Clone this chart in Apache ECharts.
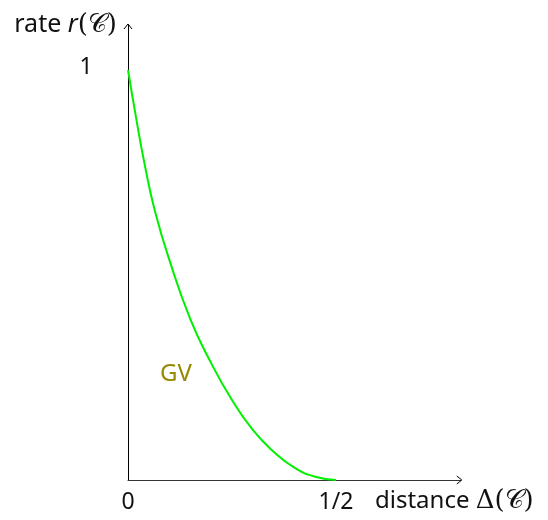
<!DOCTYPE html>
<html>
<head>
<meta charset="utf-8">
<style>
  html, body { margin: 0; padding: 0; background: #fff; }
  #chart { width: 548px; height: 520px; }
</style>
<script src="https://cdn.jsdelivr.net/npm/echarts@6/dist/echarts.min.js"></script>
</head>
<body>
<div id="chart"></div>
<script>
// Gilbert–Varshamov curve: relative distance vs. rate
const distance = [0, 0.02, 0.04, 0.065, 0.1, 0.15, 0.2, 0.25, 0.3, 0.35, 0.4, 0.45, 0.5];
const rate     = [1, 0.88, 0.77, 0.655, 0.535, 0.392, 0.285, 0.195, 0.122, 0.069, 0.03, 0.008, 0];
const xTickValues = [0, 0.5];
const xTickLabels = ['0', '1/2'];
const yTickValues = [1];
const yTickLabels = ['1'];
const curveName = 'GV';
const curveLabelAt = [0.12, 0.25];

const FONT = '"Noto Sans", sans-serif';
const chart = echarts.init(document.getElementById('chart'), null, { renderer: 'canvas' });

const points = distance.map((d, i) => [d, rate[i]]);
const yMax = 455 / 410;

chart.setOption({
  animation: false,
  grid: { left: 128, right: 87.2, top: 25, bottom: 40 },
  xAxis: {
    type: 'value', min: 0, max: 0.8,
    splitLine: { show: false },
    axisTick: { show: false },
    axisLabel: { show: false },
    axisLine: { lineStyle: { color: '#333', width: 1 } }
  },
  yAxis: {
    type: 'value', min: 0, max: yMax,
    splitLine: { show: false },
    axisTick: { show: false },
    axisLabel: { show: false },
    axisLine: { lineStyle: { color: '#000', width: 1 } }
  },
  series: [{
    type: 'line',
    data: points,
    smooth: 0.5,
    showSymbol: false,
    lineStyle: { color: '#00f000', width: 2 },
    z: 3
  }]
});

function px(v) { return chart.convertToPixel({ gridIndex: 0 }, v); }

const o = px([0, 0]);
const xEnd = px([0.8, 0]);
const yEnd = px([0, yMax]);
const g = [];

// open arrow heads at the axis ends
g.push({ type: 'polyline', shape: { points: [[xEnd[0] - 4, xEnd[1] - 4], [xEnd[0] + 1, xEnd[1]], [xEnd[0] - 4, xEnd[1] + 4]] },
  style: { stroke: '#000', lineWidth: 1, fill: null }, z: 10 });
g.push({ type: 'polyline', shape: { points: [[yEnd[0] - 4, yEnd[1] + 4], [yEnd[0], yEnd[1] - 1], [yEnd[0] + 4, yEnd[1] + 4]] },
  style: { stroke: '#000', lineWidth: 1, fill: null }, z: 10 });

const txt = { font: '23px ' + FONT, fill: '#111' };

xTickValues.forEach((v, i) => {
  const p = px([v, 0]);
  g.push({ type: 'text', x: p[0], y: p[1] + 22, style: Object.assign({ text: xTickLabels[i], align: 'center', verticalAlign: 'middle' }, txt) });
});
yTickValues.forEach((v, i) => {
  const p = px([0, v]);
  g.push({ type: 'text', x: p[0] - 42, y: p[1] - 3, style: Object.assign({ text: yTickLabels[i], align: 'center', verticalAlign: 'middle' }, txt) });
});

const rich = {
  n: { font: '24px ' + FONT, fill: '#111' },
  r: { font: '25px ' + FONT, fill: '#111' },
  i: { font: 'italic 25px ' + FONT, fill: '#111' },
  m: { font: '26px "DejaVu Serif", serif', fill: '#111' },
  c: { font: '26px "DejaVu Serif", serif', fill: '#111' }
};

// axis titles
const half = px([0.5, 0]);
g.push({ type: 'text', x: half[0] + 39, y: half[1] + 21,
  style: { text: '{n|distance }{m|Δ(}{c|𝒞}{m|)}', rich: rich, align: 'left', verticalAlign: 'middle' } });
g.push({ type: 'text', x: o[0] - 11, y: yEnd[1],
  style: { text: '{r|rate }{i|r}{m|(}{c|𝒞}{m|)}', rich: rich, align: 'right', verticalAlign: 'middle' } });

// curve name
const lp = px(curveLabelAt);
g.push({ type: 'text', x: lp[0] - 18, y: lp[1] - 3,
  style: { text: curveName, font: '24px ' + FONT, fill: '#968a00', align: 'left', verticalAlign: 'middle' } });

chart.setOption({ graphic: { elements: g } });
</script>
</body>
</html>
